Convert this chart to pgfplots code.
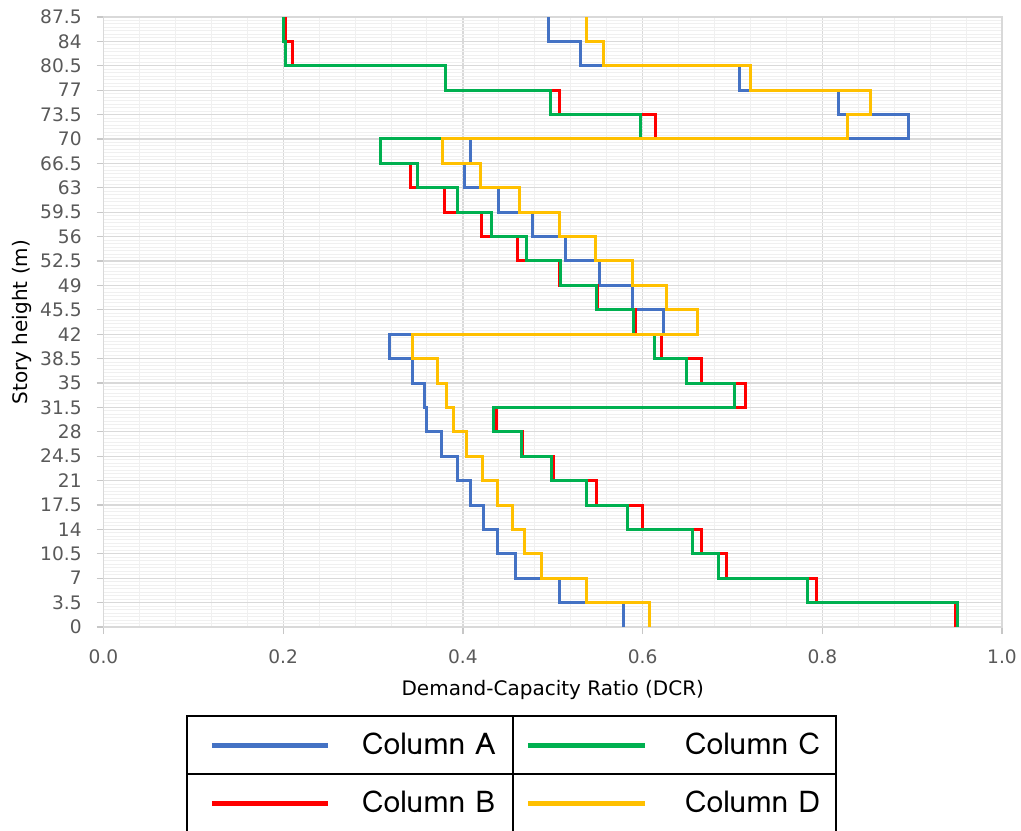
\documentclass[border=0pt]{standalone}
\usepackage{fontspec}
\setmainfont{DejaVu Sans}
\newfontfamily\legfont{Loma}
\usepackage{pgfplots}
\usepackage{pgfplotstable}
\pgfplotsset{compat=1.18}
\definecolor{cA}{HTML}{4472C4}
\definecolor{cB}{HTML}{FF0000}
\definecolor{cC}{HTML}{00B050}
\definecolor{cD}{HTML}{FFC000}
\definecolor{txt}{HTML}{595959}

\pgfplotstableread{
h    A     B     C     D
0    0.579 0.948 0.950 0.608
3.5  0.579 0.948 0.950 0.608
3.5  0.507 0.794 0.783 0.537
7    0.507 0.794 0.783 0.537
7    0.459 0.693 0.685 0.487
10.5 0.459 0.693 0.685 0.487
10.5 0.438 0.665 0.655 0.468
14   0.438 0.665 0.655 0.468
14   0.423 0.600 0.583 0.455
17.5 0.423 0.600 0.583 0.455
17.5 0.409 0.549 0.537 0.438
21   0.409 0.549 0.537 0.438
21   0.394 0.501 0.499 0.422
24.5 0.394 0.501 0.499 0.422
24.5 0.376 0.466 0.465 0.404
28   0.376 0.466 0.465 0.404
28   0.360 0.437 0.434 0.390
31.5 0.360 0.437 0.434 0.390
31.5 0.357 0.715 0.702 0.382
35   0.357 0.715 0.702 0.382
35   0.344 0.665 0.649 0.372
38.5 0.344 0.665 0.649 0.372
38.5 0.318 0.621 0.613 0.344
42   0.318 0.621 0.613 0.344
42   0.623 0.592 0.590 0.661
45.5 0.623 0.592 0.590 0.661
45.5 0.589 0.550 0.549 0.627
49   0.589 0.550 0.549 0.627
49   0.552 0.507 0.509 0.589
52.5 0.552 0.507 0.509 0.589
52.5 0.514 0.461 0.471 0.548
56   0.514 0.461 0.471 0.548
56   0.478 0.421 0.432 0.507
59.5 0.478 0.421 0.432 0.507
59.5 0.440 0.379 0.394 0.463
63   0.440 0.379 0.394 0.463
63   0.402 0.342 0.350 0.420
66.5 0.402 0.342 0.350 0.420
66.5 0.408 0.308 0.308 0.377
70   0.408 0.308 0.308 0.377
70   0.896 0.614 0.598 0.828
73.5 0.896 0.614 0.598 0.828
73.5 0.818 0.508 0.497 0.854
77   0.818 0.508 0.497 0.854
77   0.708 0.381 0.381 0.720
80.5 0.708 0.381 0.381 0.720
80.5 0.531 0.210 0.203 0.556
84   0.531 0.210 0.203 0.556
84   0.495 0.203 0.200 0.538
87.5 0.495 0.203 0.200 0.538
}\data

\begin{document}
\begin{tikzpicture}
\begin{axis}[
  scale only axis, width=449.25pt, height=305pt,
  xmin=0, xmax=1, ymin=0, ymax=87.5,
  xtick={0,0.2,0.4,0.6,0.8,1},
  ytick={0,3.5,7,10.5,14,17.5,21,24.5,28,31.5,35,38.5,42,45.5,49,52.5,56,59.5,63,66.5,70,73.5,77,80.5,84,87.5},
  minor x tick num=4, minor y tick num=6,
  grid=both,
  major grid style={black!15, line width=0.6pt},
  minor grid style={black!6, line width=0.5pt},
  axis line style={black!15, line width=0.6pt},
  tick align=outside, xtick pos=left, ytick pos=left,
  major tick length=3.5pt, minor tick length=0pt,
  tick style={black!22, line width=0.6pt},
  /pgf/number format/assume math mode=true,
  xticklabel={\pgfmathprintnumber[fixed,fixed zerofill,precision=1]{\tick}},
  ticklabel style={font=\fontsize{9.3}{11}\selectfont, text=txt},
  xticklabel style={anchor=center, inner sep=0pt, yshift=-11.5pt},
  yticklabel style={anchor=east, inner sep=0pt, xshift=-7.25pt},
  xlabel={Demand-Capacity Ratio (DCR)},
  ylabel={Story height (m)},
  label style={font=\fontsize{9.3}{11}\selectfont, text=txt},
  every axis x label/.style={at={(axis description cs:0.5,-0.1033)}, anchor=center},
  every axis y label/.style={at={(axis description cs:-0.0907,0.5)}, anchor=center, rotate=90},
  every axis plot/.append style={line width=1.5pt},
  legend columns=2, transpose legend,
  legend style={name=leg, at={(axis description cs:0.0929,-0.1459)}, anchor=north west,
    draw=black, line width=1pt, inner sep=0pt, outer sep=0pt, column sep=0pt, row sep=0pt,
    font=\legfont\fontsize{15}{18}\selectfont, text=black,
    nodes={inner sep=0pt, outer sep=0pt}, cells={anchor=west, inner sep=0pt, outer sep=0pt}},
]
\addplot[cA, legend image code/.code={\path[draw=none,fill=none] (0pt,-14.5pt) rectangle (87.5pt,14.5pt); \draw[cA, line width=2.5pt] (12.5pt,0pt) -- (70.5pt,0pt);}] table[x=A, y=h] {\data};
\addlegendentry{\makebox[75.5pt][l]{Column A}}
\addplot[cB, legend image code/.code={\path[draw=none,fill=none] (0pt,-14.5pt) rectangle (87.5pt,14.5pt); \draw[cB, line width=2.5pt] (12.5pt,0pt) -- (70.5pt,0pt);}] table[x=B, y=h] {\data};
\addlegendentry{\makebox[75.5pt][l]{Column B}}
\addplot[cC, legend image code/.code={\path[draw=none,fill=none] (0pt,-14.5pt) rectangle (86pt,14.5pt); \draw[cC, line width=2.5pt] (7.5pt,0pt) -- (66pt,0pt);}] table[x=C, y=h] {\data};
\addlegendentry{\makebox[75.5pt][l]{Column C}}
\addplot[cD, legend image code/.code={\path[draw=none,fill=none] (0pt,-14.5pt) rectangle (86pt,14.5pt); \draw[cD, line width=2.5pt] (7.5pt,0pt) -- (66pt,0pt);}] table[x=D, y=h] {\data};
\addlegendentry{\makebox[75.5pt][l]{Column D}}
\end{axis}
\draw[line width=1pt] ([xshift=163pt]leg.north west) -- ([xshift=163pt]leg.south west);
\draw[line width=1pt] (leg.west) -- (leg.east);
\pgfresetboundingbox
\path (current axis.south west) ++(-51.75pt,-101.5pt) rectangle ++(510.5pt,415pt);
\end{tikzpicture}
\end{document}
